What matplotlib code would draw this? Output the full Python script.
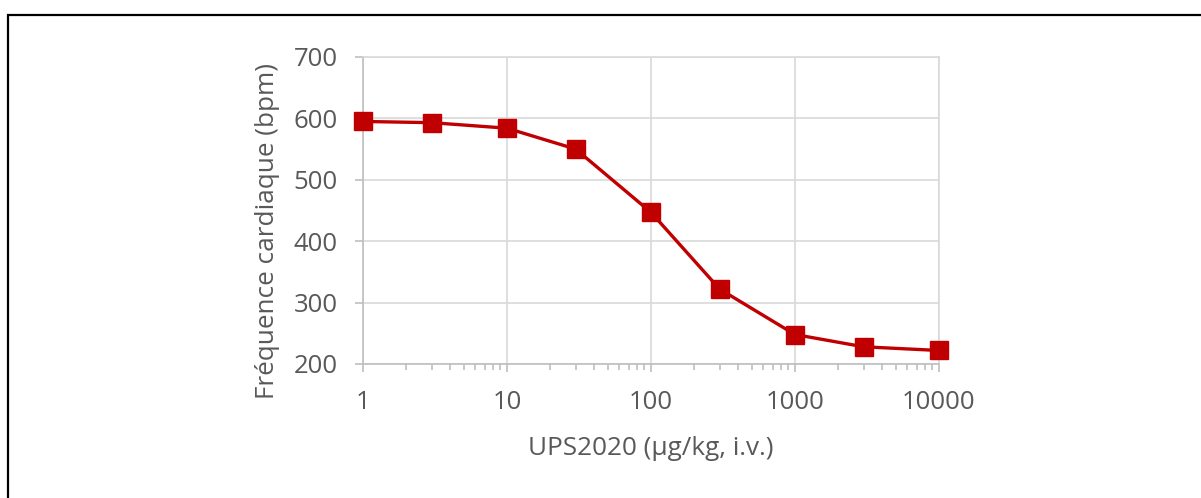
#!/usr/bin/env python
# Heart rate vs UPS2020 dose (log scale), Excel-like style.

import numpy as np
import matplotlib
matplotlib.use("Agg")
import matplotlib.pyplot as plt
from matplotlib.patches import Rectangle
from matplotlib.ticker import LogLocator, FixedLocator, NullFormatter

plt.rcParams['font.family'] = ['Open Sans', 'DejaVu Sans']

dose = [1, 3, 10, 30, 100, 300, 1000, 3000, 10000]
rate = [595, 593, 584, 550, 447, 322, 248, 228, 222]
xticks = [1, 10, 100, 1000, 10000]
xticklabels = ['1', '10', '100', '1000', '10000']
yticks = [200, 300, 400, 500, 600, 700]

red = '#C00000'
grid = '#D9D9D9'
axis_col = '#BFBFBF'
txt = '#595959'

fig = plt.figure(figsize=(12.01, 4.98), dpi=100)
ax = fig.add_axes([0.3022, 0.2691, 0.4796, 0.6165])

ax.plot(dose, rate, color=red, lw=2.4, marker='s', ms=13, mfc=red, mec=red,
        zorder=3, clip_on=False)

ax.set_xscale('log')
ax.set_xlim(1, 10000)
ax.set_ylim(200, 700)
ax.xaxis.set_major_locator(FixedLocator(xticks))
ax.set_xticks(xticks, xticklabels)
ax.xaxis.set_minor_locator(LogLocator(base=10, subs=np.arange(2, 10)))
ax.xaxis.set_minor_formatter(NullFormatter())
ax.set_yticks(yticks)

ax.grid(True, which='major', color=grid, lw=1.2)
ax.set_axisbelow(True)
for s in ['top', 'right']:
    ax.spines[s].set_color(grid)
    ax.spines[s].set_linewidth(1.2)
for s in ['left', 'bottom']:
    ax.spines[s].set_color(axis_col)
    ax.spines[s].set_linewidth(1.2)

ax.tick_params(axis='both', which='major', colors=axis_col, labelcolor=txt,
               labelsize=18.5, width=1.2)
ax.tick_params(axis='x', which='major', length=6, pad=13)
ax.tick_params(axis='y', which='major', length=6, pad=12)
ax.tick_params(axis='x', which='minor', length=4, width=1.2, color=axis_col)

ax.set_xlabel("UPS2020 (µg/kg, i.v.)", fontsize=18.8, color=txt, labelpad=15)
ax.set_ylabel("Fréquence cardiaque (bpm)", fontsize=18.8, color=txt)
ax.yaxis.set_label_coords(-0.144, 0.433)

# outer frame, cut by the image edges at right and bottom
fig.patches.append(Rectangle((8 / 1201, -0.05), 1.1, 1 - 15 / 498 + 0.05,
                             transform=fig.transFigure, fill=False,
                             edgecolor='black', lw=1.6, zorder=10))

fig.savefig("out.png", dpi=100)
